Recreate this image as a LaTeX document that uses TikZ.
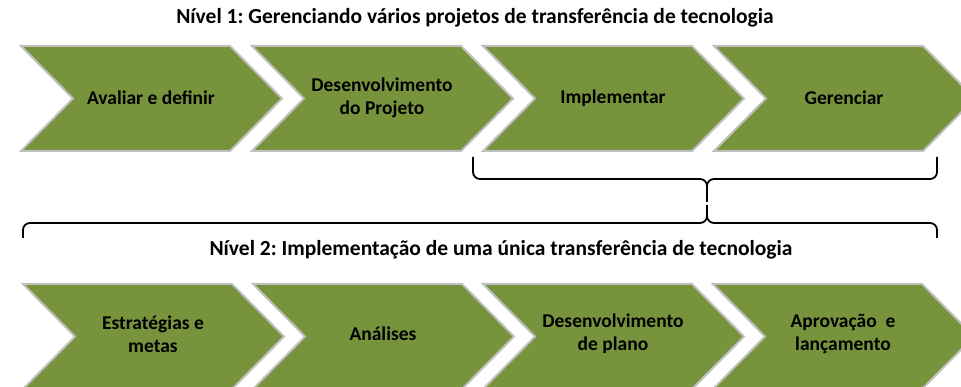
\documentclass[tikz,border=0pt]{standalone}
\usepackage{fontspec}
\setmainfont{Carlito}
\definecolor{oliveleaf}{HTML}{77933C}
\definecolor{rimgray}{HTML}{BFBFBF}
\frenchspacing

\begin{document}
\begin{tikzpicture}[x=1pt,y=-1pt]
\tikzset{ChevronStyle/.style =
	{fill = oliveleaf,
		draw = rimgray,
		line width = 2pt,
		line join = miter},
	StepStyle/.style =
	{font = \bfseries\fontsize{19.5}{23}\selectfont,
		align = center,
		text = black},
	LevelStyle/.style = {font = \bfseries\fontsize{21.5}{25}\selectfont},
	BraceStyle/.style = {line width = 1.8pt, rounded corners = 7pt}}
\useasboundingbox (0,0) rectangle (961,387);
% level 1
\node[LevelStyle] (L1) at (475,18) {Nível 1: Gerenciando vários projetos de transferência de tecnologia};
\foreach \x/\txt [count=\i] in {21/Avaliar e definir, 252/{Desenvolvimento\\do Projeto}, 483/Implementar, 714/Gerenciar}
{
	\draw[ChevronStyle] (\x,46) -- ++(209,0) -- ++(52,52.5) -- ++(-52,52.5) -- ++(-209,0) -- ++(52,-52.5) -- cycle;
	\node[StepStyle] (T\i) at (\x+130,98) {\txt};
}
% braces
\draw[BraceStyle] (473,157) |- (707,179) -- (707,202);
\draw[BraceStyle] (937,157) |- (707,179) -- (707,195);
\draw[BraceStyle] (23,238) |- (707,223) -- (707,205);
\draw[BraceStyle] (937,238) |- (707,223) -- (707,212);
% level 2
\node[LevelStyle] (L2) at (501,250) {Nível 2: Implementação de uma única transferência de tecnologia};
\foreach \x/\txt [count=\i] in {23/{Estratégias e\\metas}, 253/Análises, 483/{Desenvolvimento\\de plano}, 713/{Aprovação~ e\\lançamento}}
{
	\draw[ChevronStyle] (\x,284) -- ++(209,0) -- ++(52,52.5) -- ++(-52,52.5) -- ++(-209,0) -- ++(52,-52.5) -- cycle;
	\node[StepStyle] (B\i) at (\x+130,334) {\txt};
}
\end{tikzpicture}
\end{document}
